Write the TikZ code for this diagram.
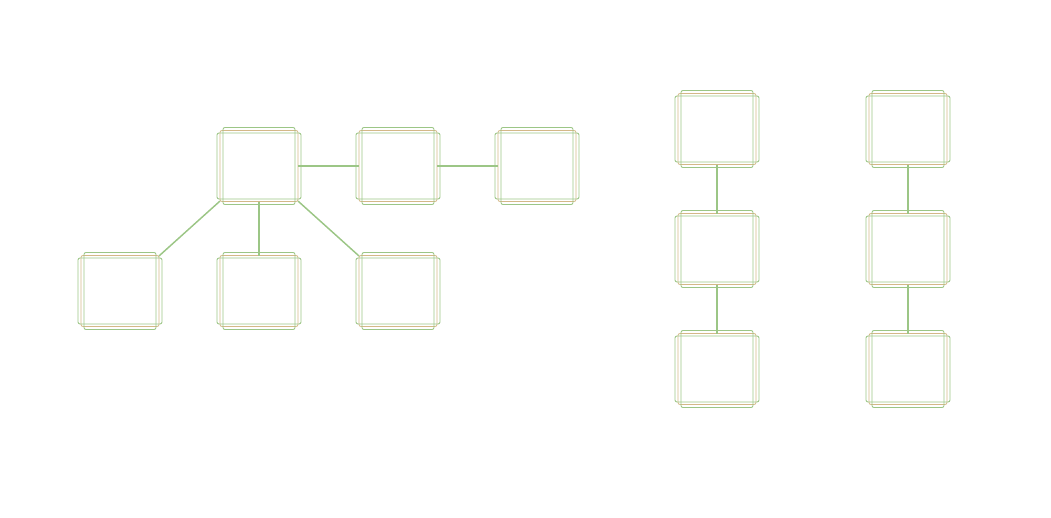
\documentclass[tikz,border=0pt]{standalone}
\usepackage{tikz}
\definecolor{leaf}{RGB}{156,198,134}
\definecolor{straw}{RGB}{212,184,136}
\tikzset{%
    cell/.style={%
        draw=straw, line width=0.6pt, rounded corners=1.5pt,
        minimum width=58.5pt, minimum height=53.25pt, inner sep=0pt, outer sep=0pt
    },
    rim/.style={draw=leaf, line width=0.65pt, rounded corners=1.5pt},
    link/.style={draw=leaf, line width=1.1pt}
}

\begin{document}
\begin{tikzpicture}[x=0.75pt, y=-0.75pt]
\useasboundingbox (0,0) rectangle (1051,518);
% tree on the left
\node[cell] (t1) at (259,166) {};
\node[cell] (t2) at (398,166) {};
\node[cell] (t3) at (537,166) {};
\node[cell] (b1) at (120,291) {};
\node[cell] (b2) at (259,291) {};
\node[cell] (b3) at (398,291) {};
% two chains on the right
\node[cell] (c1) at (717,129) {};
\node[cell] (c2) at (717,249) {};
\node[cell] (c3) at (717,369) {};
\node[cell] (d1) at (908,129) {};
\node[cell] (d2) at (908,249) {};
\node[cell] (d3) at (908,369) {};
\foreach \n in {t1,t2,t3,b1,b2,b3,c1,c2,c3,d1,d2,d3} {
    \draw[rim] ([shift={(-27pt,-28.9pt)}]\n.center) rectangle ([shift={(27pt,28.9pt)}]\n.center);
    \draw[rim] ([shift={(-31.5pt,-24.75pt)}]\n.center) rectangle ([shift={(31.5pt,24.75pt)}]\n.center);
}
\draw[link] (t1) -- (t2);
\draw[link] (t2) -- (t3);
\draw[link] (t1) -- (b1);
\draw[link] (t1) -- (b2);
\draw[link] (t1) -- (b3);
\draw[link] (c1) -- (c2);
\draw[link] (c2) -- (c3);
\draw[link] (d1) -- (d2);
\draw[link] (d2) -- (d3);
\end{tikzpicture}
\end{document}
